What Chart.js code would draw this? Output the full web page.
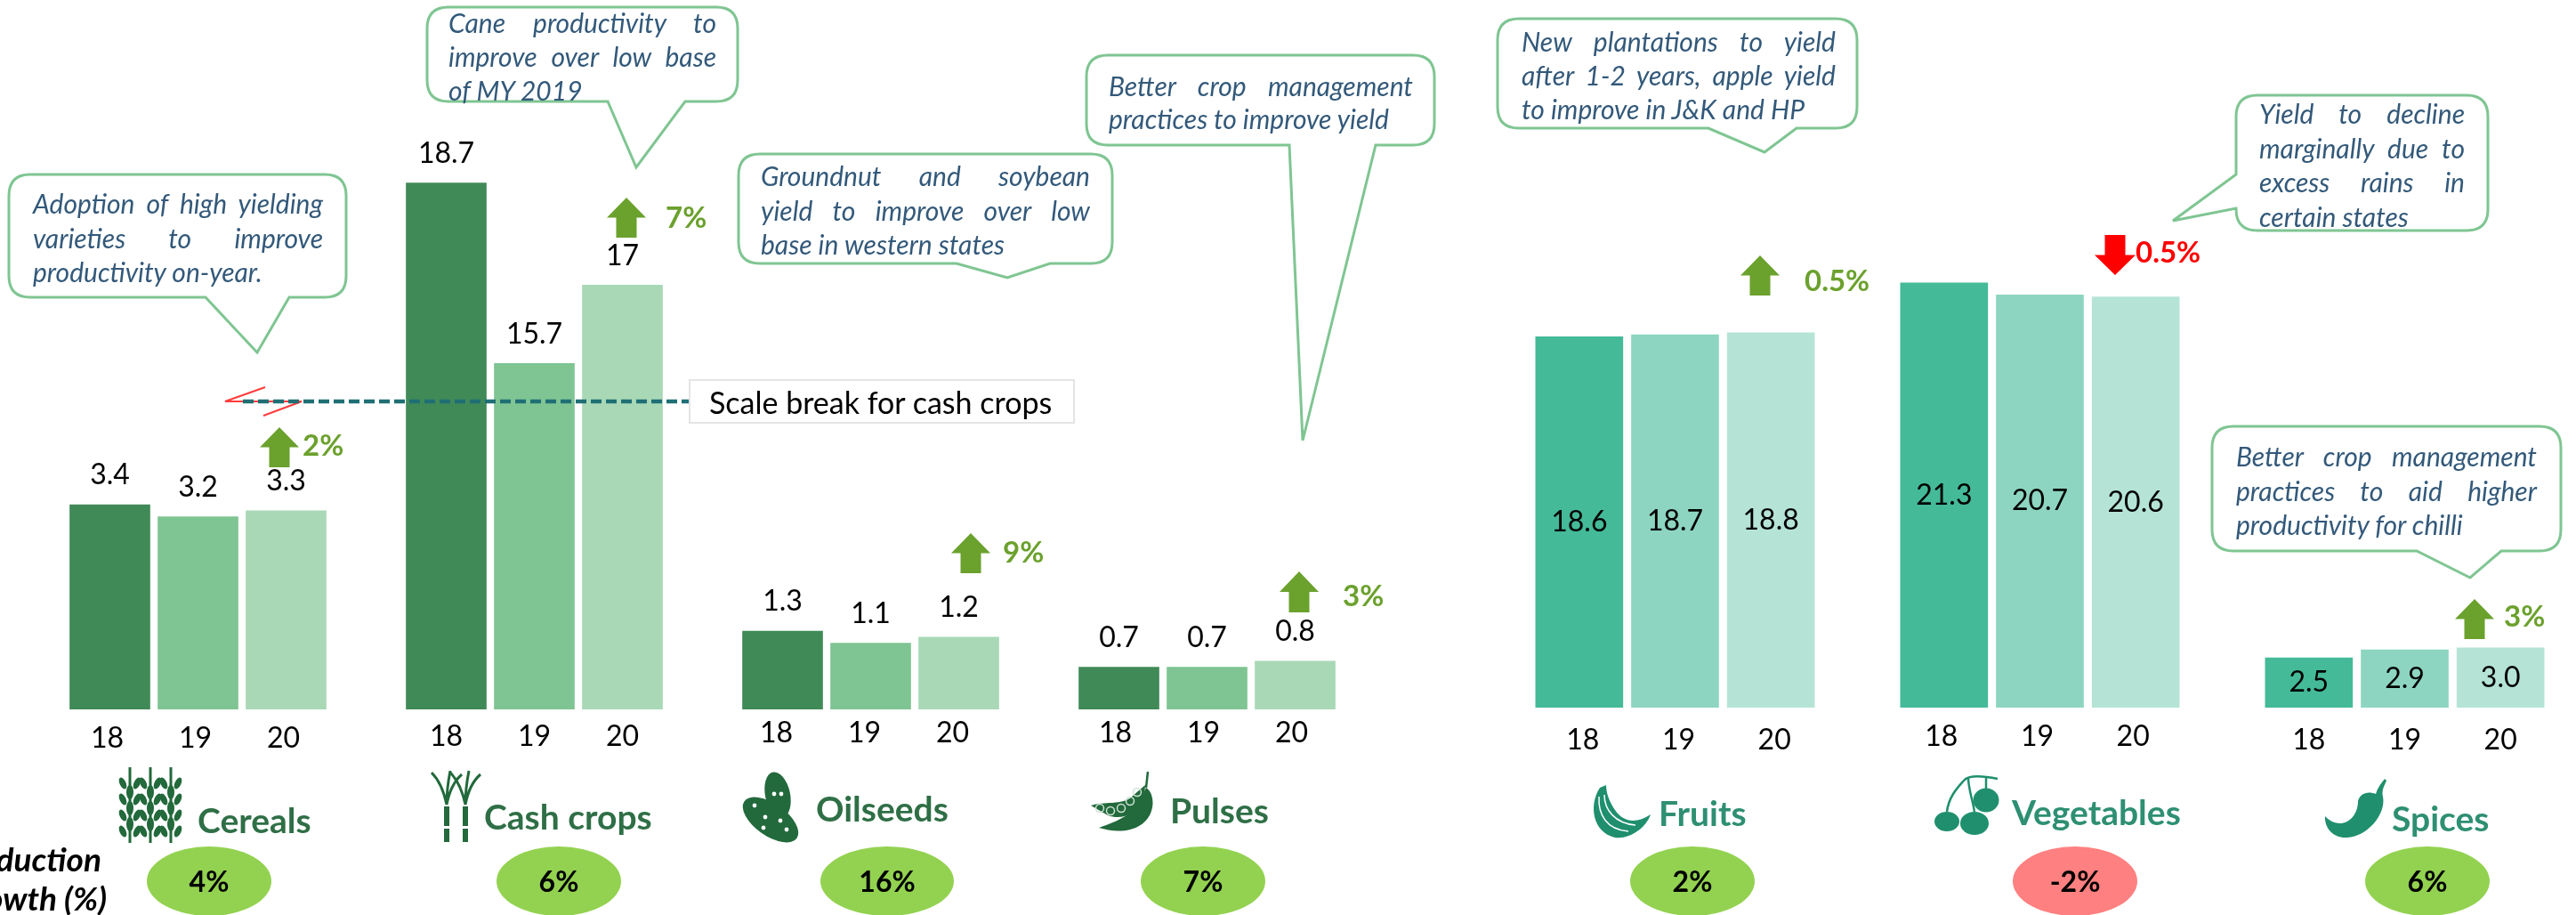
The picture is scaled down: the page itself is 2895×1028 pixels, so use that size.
<!DOCTYPE html>
<html>
<head>
<meta charset="utf-8">
<title>Crop yields</title>
<script src="https://cdn.jsdelivr.net/npm/chart.js@4"></script>
<style>
html,body{margin:0;padding:0;background:#fff;overflow:hidden}
#page{position:relative;width:2895px;height:1028px;overflow:hidden;font-family:Lato,sans-serif}
#page canvas{position:absolute;top:0}
#art{position:absolute;left:0;top:0;z-index:1}
.t{position:absolute;white-space:nowrap;transform:translateY(-50%);line-height:1;z-index:2}
.note{font-style:italic;color:#33597a;font-size:30px;white-space:normal}
.just{text-align-last:justify}
.head{font-weight:700;font-size:39px}
.pct{font-weight:700;font-size:33px}
.pill{font-weight:700;font-size:32px;color:#000;text-align:center;transform:translate(-50%,-50%)}
</style>
</head>
<body>
<div id="page"><svg id="art" width="2895" height="1028"></svg></div>
<script>
// ── data ────────────────────────────────────────────
const years=['18','19','20'];
const cerealsVals=[3.4,3.2,3.3];
const cashVals=[18.7,15.7,17];
const oilseedsVals=[1.3,1.1,1.2];
const pulsesVals=[0.7,0.7,0.8];
const fruitsVals=[18.6,18.7,18.8];
const vegetablesVals=[21.3,20.7,20.6];
const spicesVals=[2.5,2.9,3.0];
const groupNames=['Cereals','Cash crops','Oilseeds','Pulses','Fruits','Vegetables','Spices'];
const growthLabels=['4%','6%','16%','7%','2%','-2%','6%'];
const yoyLabels=['2%','7%','9%','3%','0.5%','0.5%','3%'];

const LEFT_COLS=['#408a58','#7fc493','#a9d8b6'];
const RIGHT_COLS=['#44ba98','#8dd5c0','#b5e4d6'];

// value labels sit above the bar or in the middle of it
const valueLabels={
  id:'valueLabels',
  afterDatasetsDraw(chart,args,opts){
    const c=chart.ctx;
    c.save();
    c.font='32px Lato';c.fillStyle='#000';c.textAlign='center';c.textBaseline='middle';
    chart.getDatasetMeta(0).data.forEach((b,i)=>{
      const v=chart.data.datasets[0].data[i];
      const txt=opts.fixed?v.toFixed(1):String(v);
      const y=opts.mode==='mid'?(b.y+b.base)/2:b.y-33;
      c.fillText(txt,b.x,y);
    });
    c.restore();
  }
};

function barChart(vals,o){
  const el=document.createElement('canvas');
  el.width=o.w;el.height=o.base+60;
  el.style.left=o.x+'px';
  document.getElementById('page').appendChild(el);
  return new Chart(el,{
    type:'bar',plugins:[valueLabels],
    data:{labels:years,datasets:[{data:vals,backgroundColor:o.cols,barThickness:o.bar}]},
    options:{responsive:false,animation:false,
      layout:{padding:0},
      plugins:{legend:{display:false},tooltip:{enabled:false},valueLabels:{mode:o.mode,fixed:o.fixed}},
      scales:{
        x:{grid:{display:false,drawTicks:false},border:{display:false},
          ticks:{color:'#000',font:{family:'Lato',size:32},padding:o.tickPad,labelOffset:o.tickX||0,maxRotation:0},
          afterFit:s=>{s.height=60}},
        y:{display:false,min:o.min||0,max:(o.min||0)+o.base/o.ppu}
      }}
  });
}

// left panel 67.6 px per unit, right panel 22.4; cash crops start at the scale break
barChart(cerealsVals,{x:74,w:297,base:797,ppu:67.6,bar:90,cols:LEFT_COLS,tickPad:13,tickX:-3});
barChart(cashVals,{x:452,w:297,base:797,ppu:67.6,min:9.95,bar:90,cols:LEFT_COLS,tickPad:11});
barChart(oilseedsVals,{x:830,w:297,base:797,ppu:67.6,bar:90,cols:LEFT_COLS,tickPad:7,tickX:-7});
barChart(pulsesVals,{x:1208,w:297,base:797,ppu:67.6,bar:90,cols:LEFT_COLS,tickPad:7,tickX:-4});
barChart(fruitsVals,{x:1721,w:323,base:795,ppu:22.4,bar:98,cols:RIGHT_COLS,mode:'mid',fixed:true,tickPad:17,tickX:4});
barChart(vegetablesVals,{x:2131,w:323,base:795,ppu:22.4,bar:98,cols:RIGHT_COLS,mode:'mid',fixed:true,tickPad:13,tickX:-3});
barChart(spicesVals,{x:2541,w:323,base:795,ppu:22.4,bar:98,cols:RIGHT_COLS,mode:'mid',fixed:true,tickPad:17});

// ── overlay: callouts, arrows, icons ────────────────
const page=document.getElementById('page'),art=document.getElementById('art');
function svg(html){art.insertAdjacentHTML('beforeend',html)}
function label(text,x,y,cls,style){
  const d=document.createElement('div');
  d.className='t '+cls;d.textContent=text;
  d.style.cssText='left:'+x+'px;top:'+y+'px;'+(style||'');
  page.appendChild(d);
}

// x0,y0,x1,y1 box; a,tip,b pointer on the bottom edge (or on the left edge if side=='l')
function callout(x0,y0,x1,y1,a,tip,b,side){
  const r=24;
  let d='M'+(x0+r)+' '+y0+' L'+(x1-r)+' '+y0+' Q'+x1+' '+y0+' '+x1+' '+(y0+r)+' L'+x1+' '+(y1-r)+' Q'+x1+' '+y1+' '+(x1-r)+' '+y1;
  if(side==='l'){
    d+=' L'+(x0+r)+' '+y1+' Q'+x0+' '+y1+' '+x0+' '+(y1-r)+' L'+x0+' '+b+' L'+tip[0]+' '+tip[1]+' L'+x0+' '+a;
  }else{
    d+=' L'+b+' '+y1+' L'+tip[0]+' '+tip[1]+' L'+a+' '+y1+' L'+(x0+r)+' '+y1+' Q'+x0+' '+y1+' '+x0+' '+(y1-r);
  }
  d+=' L'+x0+' '+(y0+r)+' Q'+x0+' '+y0+' '+(x0+r)+' '+y0+' Z';
  svg('<path d="'+d+'" fill="#fff" stroke="#7fc592" stroke-width="3"/>');
}
function noteLines(lines,x,w,ys){
  lines.forEach((s,i)=>{
    const last=i===lines.length-1;
    label(s,x,ys[i],'note'+(last?'':' just'),'width:'+(last?w+40:w)+'px;');
  });
}

callout(10,196,389,334,231,[289,396],325);
noteLines(['Adoption of high yielding','varieties to improve','productivity on-year.'],37,326,[228,267,305]);
callout(480,8,829,114,683,[715,188],770);
noteLines(['Cane productivity to','improve over low base','of MY 2019'],504,301,[25,63,101]);
callout(830,173,1250,296,1075,[1132,312],1180);
noteLines(['Groundnut and soybean','yield to improve over low','base in western states'],855,370,[197,236,274]);
callout(1221,62,1612,163,1449,[1464,495],1546);
noteLines(['Better crop management','practices to improve yield'],1246,342,[96,133]);
callout(1683,21,2087,144,1920,[1983,171],2019);
noteLines(['New plantations to yield','after 1-2 years, apple yield','to improve in J&K and HP'],1710,353,[46,84,122]);
callout(2513,107,2796,259,196,[2442,248],234,'l');
noteLines(['Yield to decline','marginally due to','excess rains in','certain states'],2539,231,[127,166,204,243]);
callout(2486,479,2878,619,2716,[2776,649],2811);
noteLines(['Better crop management','practices to aid higher','productivity for chilli'],2513,338,[512,551,589]);

// scale break
svg('<path d="M298 435 L253 451 L339 451 L296 467" fill="none" stroke="#ff3b3b" stroke-width="2"/>');
svg('<line x1="273" y1="451" x2="774" y2="451" stroke="#1f6f75" stroke-width="4.5" stroke-dasharray="12 5"/>');
svg('<rect x="775" y="427" width="432" height="48" fill="#fff" stroke="#e4e4e4" stroke-width="2"/>');
label('Scale break for cash crops',797,452,'','font-size:34px;color:#000;');

// year on year arrows
function upArrow(cx,top,bot,hw,sw,col){
  const neck=top+(bot-top)*0.5;
  svg('<path d="M'+cx+' '+top+' L'+(cx+hw)+' '+neck+' L'+(cx+sw)+' '+neck+' L'+(cx+sw)+' '+bot+' L'+(cx-sw)+' '+bot+' L'+(cx-sw)+' '+neck+' L'+(cx-hw)+' '+neck+' Z" fill="'+col+'"/>');
}
const GREEN='#6ba12d';
upArrow(314,480,525,22,11.5,GREEN);label(yoyLabels[0],340,499,'pct','color:'+GREEN);
upArrow(704,222,267,22,11.5,GREEN);label(yoyLabels[1],748,243,'pct','color:'+GREEN);
upArrow(1091,599,644,22,11.5,GREEN);label(yoyLabels[2],1127,619,'pct','color:'+GREEN);
upArrow(1460,642,688,22,11.5,GREEN);label(yoyLabels[3],1509,668,'pct','color:'+GREEN);
upArrow(1978,287,332,22,11.5,GREEN);label(yoyLabels[4],2028,314,'pct','color:'+GREEN);
upArrow(2377,309,264,23,11.5,'#ff0000');label(yoyLabels[5],2400,282,'pct','color:#ff0000');
upArrow(2781,673,718,22,11.5,GREEN);label(yoyLabels[6],2814,691,'pct','color:'+GREEN);

// group headings and growth pills
const DARK='#2f6f46',TEAL='#2e8f72';
label(groupNames[0],222,921,'head','color:'+DARK);
label(groupNames[1],544,917,'head','color:'+DARK);
label(groupNames[2],917,908,'head','color:'+DARK);
label(groupNames[3],1315,910,'head','color:'+DARK);
label(groupNames[4],1864,913,'head','color:'+TEAL);
label(groupNames[5],2261,912,'head','color:'+TEAL);
label(groupNames[6],2688,919,'head','color:'+TEAL);

[[235,70],[628,70],[997,75],[1352,70],[1902,70],[2332,70],[2728,70]].forEach((p,i)=>{
  const col=growthLabels[i][0]==='-'?'#ff8080':'#93d250';
  svg('<ellipse cx="'+p[0]+'" cy="990" rx="'+p[1]+'" ry="39" fill="'+col+'"/>');
  label(growthLabels[i],p[0],990,'pill');
});
label('Production',114,964,'','font:italic 700 37px Lato;transform:translate(-100%,-50%);color:#000');
label('growth (%)',120,1008,'','font:italic 700 37px Lato;transform:translate(-100%,-50%);color:#000');

// ── icons ───────────────────────────────────────────
const ICON='#22693b',ICON2='#1f8f6d';
// cereals
[146,169,192].forEach(x=>{
  svg('<rect x="'+(x-1.5)+'" y="862" width="3" height="85" fill="'+ICON+'"/>');
  [874,892,910,928].forEach((y,i)=>{
    if(i>0)svg('<ellipse cx="'+x+'" cy="'+(y-2)+'" rx="4" ry="8" fill="'+ICON+'"/>');
    svg('<ellipse cx="'+(x-8)+'" cy="'+(y+6)+'" rx="3.5" ry="7" fill="'+ICON+'" transform="rotate(-25 '+(x-8)+' '+(y+6)+')"/>');
    svg('<ellipse cx="'+(x+8)+'" cy="'+(y+6)+'" rx="3.5" ry="7" fill="'+ICON+'" transform="rotate(25 '+(x+8)+' '+(y+6)+')"/>');
  });
});
// cane
[502,523].forEach(x=>{
  svg('<path d="M'+(x-3)+' 906 h6 v22 h-6z M'+(x-3)+' 931 h6 v15 h-6z" fill="'+ICON+'"/>');
  svg('<path d="M'+x+' 904 C'+(x-4)+' 885 '+(x-10)+' 875 '+(x-17)+' 868 M'+x+' 904 C'+x+' 888 '+(x+2)+' 876 '+(x+4)+' 866 M'+x+' 904 C'+(x+3)+' 888 '+(x+10)+' 876 '+(x+17)+' 870" fill="none" stroke="'+ICON+'" stroke-width="3"/>');
});
// peanut
svg('<ellipse cx="874" cy="893" rx="14" ry="26" fill="'+ICON+'" transform="rotate(-12 874 893)"/>');
svg('<ellipse cx="866" cy="921" rx="36" ry="18" fill="'+ICON+'" transform="rotate(35 866 921)"/>');
[[870,892],[878,892],[848,905],[860,918],[858,930],[877,922],[884,932]].forEach(p=>svg('<circle cx="'+p[0]+'" cy="'+p[1]+'" r="2.4" fill="#fff"/>'));
// pea pod
svg('<path d="M1226 905 C1240 900 1262 905 1272 895 L1287 882 C1287 902 1270 925 1245 916 Z" fill="'+ICON+'"/>');
svg('<path d="M1288 885 C1300 892 1300 925 1270 932 C1258 935 1245 933 1235 930 C1250 925 1268 918 1278 905 C1284 896 1285 890 1288 885Z" fill="'+ICON+'"/>');
[[1236,908],[1248,911],[1260,908],[1270,900],[1278,890]].forEach(p=>svg('<circle cx="'+p[0]+'" cy="'+p[1]+'" r="4.5" fill="none" stroke="#cfe3d4" stroke-width="1.5"/>'));
svg('<path d="M1290 867 L1288 885" stroke="'+ICON+'" stroke-width="2.5"/>');
// banana
svg('<path d="M1798 885 C1785 905 1790 935 1815 941 C1832 943 1850 930 1855 915 C1840 925 1825 925 1815 910 C1808 900 1805 890 1805 882Z" fill="'+ICON2+'"/>');
svg('<path d="M1797 895 C1796 915 1805 932 1830 934 M1803 893 C1803 910 1815 925 1838 927" fill="none" stroke="#fff" stroke-width="1.5"/>');
// tomatoes
[[2188,923,14,11],[2219,925,16,13],[2232,899,14.5,13.5]].forEach(p=>svg('<ellipse cx="'+p[0]+'" cy="'+p[1]+'" rx="'+p[2]+'" ry="'+p[3]+'" fill="'+ICON2+'"/>'));
svg('<path d="M2188 912 C2190 895 2200 885 2207 877 C2212 871 2225 871 2245 875 M2219 912 C2216 895 2212 885 2212 874 M2232 886 L2232 873" fill="none" stroke="'+ICON2+'" stroke-width="2.5"/>');
// chilli
svg('<path d="M2680 875 C2676 880 2672 885 2670 892 C2660 888 2652 892 2650 900 C2650 915 2640 925 2630 925 C2622 925 2617 921 2613 917 C2612 930 2622 942 2638 941 C2660 940 2682 915 2678 895 C2676 888 2680 882 2682 877Z" fill="'+ICON2+'"/>');
</script>
</body>
</html>
